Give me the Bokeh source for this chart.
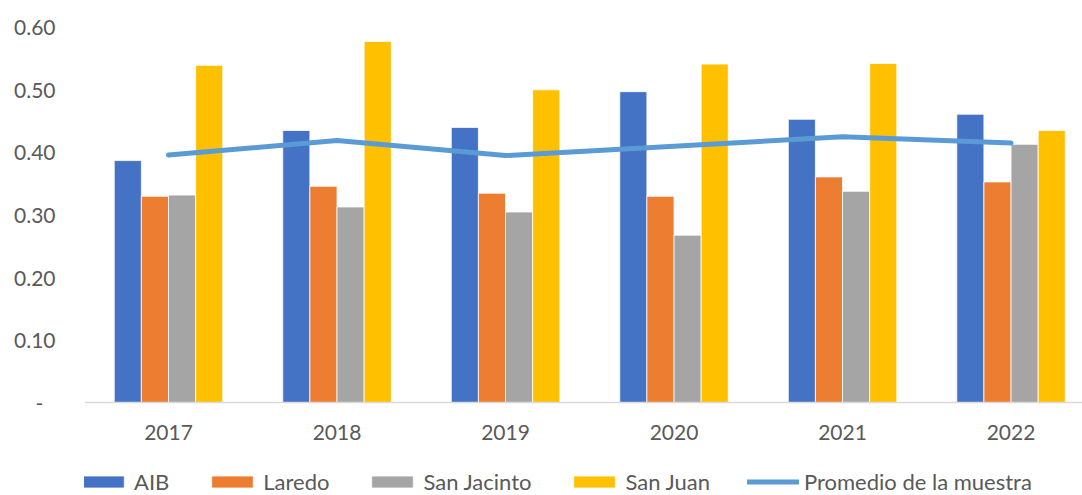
from bokeh.plotting import figure
from bokeh.models import (ColumnDataSource, FixedTicker, Range1d, Legend, LegendItem)
from bokeh.embed import file_html
from bokeh.resources import INLINE

years = ["2017", "2018", "2019", "2020", "2021", "2022"]
aib = [0.386, 0.434, 0.439, 0.496, 0.452, 0.460]
laredo = [0.329, 0.345, 0.334, 0.329, 0.360, 0.352]
san_jacinto = [0.331, 0.312, 0.304, 0.267, 0.337, 0.412]
san_juan = [0.538, 0.576, 0.499, 0.540, 0.541, 0.434]
promedio = [0.395, 0.418, 0.394, 0.409, 0.424, 0.414]

series = [("AIB", aib, "#4472C4"),
          ("Laredo", laredo, "#ED7D31"),
          ("San Jacinto", san_jacinto, "#A5A5A5"),
          ("San Juan", san_juan, "#FFC000")]

FONT = "Lato"
TXT = "#595959"

p = figure(width=1082, height=495, output_backend="svg", toolbar_location=None,
           x_range=Range1d(-0.4985, 5.424), y_range=Range1d(-0.1484, 0.6),
           min_border_left=84, min_border_right=0, min_border_top=26,
           min_border_bottom=0)
p.outline_line_color = None
p.xgrid.grid_line_color = None
p.ygrid.grid_line_color = None

xs = list(range(len(years)))
bw = 0.161
items = []
for i, (name, vals, col) in enumerate(series):
    off = (i - 1.5) * bw
    src = ColumnDataSource(dict(x=[x + off for x in xs], top=vals))
    r = p.vbar(x="x", top="top", width=bw, bottom=0, source=src,
               fill_color=col, line_color="white", line_width=0.8)
    items.append(LegendItem(label=name, renderers=[r]))

lsrc = ColumnDataSource(dict(x=xs, y=promedio))
lr = p.line(x="x", y="y", source=lsrc, line_color="#5B9BD5", line_width=5,
            line_cap="round", line_join="round")
items.append(LegendItem(label="Promedio de la muestra", renderers=[lr]))

# x axis, pinned at y = 0
xa = p.xaxis[0]
xa.fixed_location = 0
xa.ticker = FixedTicker(ticks=xs)
xa.major_label_overrides = {i: y for i, y in enumerate(years)}
xa.axis_line_color = "#D9D9D9"
xa.axis_line_width = 1.5
xa.major_tick_line_color = None
xa.minor_tick_line_color = None
xa.major_label_text_font = FONT
xa.major_label_text_font_size = "21px"
xa.major_label_text_color = TXT
xa.major_label_standoff = 16

# y axis
ya = p.yaxis[0]
yt = [0.0, 0.1, 0.2, 0.3, 0.4, 0.5, 0.6]
ya.ticker = FixedTicker(ticks=yt)
ya.major_label_overrides = {t: ("-\u2007" if t == 0 else f"{t:.2f}") for t in yt}
ya.axis_line_color = None
ya.major_tick_line_color = None
ya.minor_tick_line_color = None
ya.major_label_text_font = FONT
ya.major_label_text_font_size = "21px"
ya.major_label_text_color = TXT
ya.major_label_standoff = 23

legend = Legend(items=items, orientation="horizontal", location=(-7, 0),
                glyph_width=52, glyph_height=15, label_standoff=5, spacing=37,
                label_text_font=FONT, label_text_font_size="22px",
                label_text_color=TXT, border_line_color=None,
                background_fill_alpha=0, padding=0, margin=0)
p.add_layout(legend, "center")

open("out.html", "w").write(file_html(p, INLINE))
